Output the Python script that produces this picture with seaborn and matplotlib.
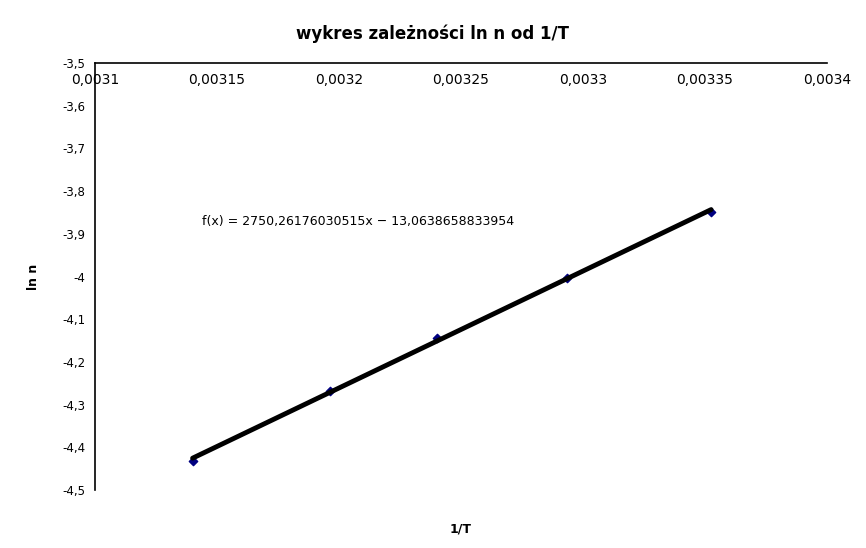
import numpy as np
import pandas as pd
import seaborn as sns
import matplotlib.pyplot as plt

# values
inv_T = [0.003140, 0.0031963, 0.0032402, 0.0032934, 0.0033525]
ln_n = [-4.432, -4.268, -4.144, -4.003, -3.849]
x_ticks = [0.0031, 0.00315, 0.0032, 0.00325, 0.0033, 0.00335, 0.0034]
y_ticks = [-3.5, -3.6, -3.7, -3.8, -3.9, -4.0, -4.1, -4.2, -4.3, -4.4, -4.5]
equation = "f(x) = 2750,26176030515x \u2212 13,0638658833954"

df = pd.DataFrame({'1/T': inv_T, 'ln n': ln_n})

sns.set_style('white')
plt.rcParams['font.family'] = ['DejaVu Sans']
plt.rcParams['text.color'] = 'black'
plt.rcParams['axes.labelcolor'] = 'black'
plt.rcParams['xtick.color'] = 'black'
plt.rcParams['ytick.color'] = 'black'

fig = plt.figure(figsize=(8.66, 5.48), dpi=100)
ax = fig.add_axes([0.1097, 0.1058, 0.955 - 0.1097, 0.885 - 0.1058])

sns.regplot(x='1/T', y='ln n', data=df, ci=None, ax=ax, truncate=True,
            marker='D', scatter_kws={'color': '#000080', 's': 18, 'alpha': 1, 'zorder': 2},
            line_kws={'color': 'black', 'lw': 3.5, 'zorder': 3})

ax.set_xlim(0.0031, 0.0034)
ax.set_ylim(-4.5, -3.5)
ax.set_xticks(x_ticks)
ax.set_yticks(y_ticks)
ax.set_xticklabels([('%.5f' % v).rstrip('0').replace('.', ',') for v in x_ticks], fontsize=8.5)
ax.set_yticklabels([('%g' % v).replace('.', ',') for v in y_ticks], fontsize=8.5)

# x axis drawn along the top edge, labels below it
ax.spines['bottom'].set_position(('data', -3.5))
ax.spines['right'].set_visible(False)
ax.spines['top'].set_visible(False)
for s in ['left', 'bottom']:
    ax.spines[s].set_linewidth(1.2)
    ax.spines[s].set_color('black')
ax.tick_params(axis='both', direction='out', length=5, width=1, pad=2)

ax.set_xlabel('1/T', fontsize=9, fontweight='bold')
ax.xaxis.set_label_coords(0.5, -0.075)
ax.set_ylabel('ln n', fontsize=9, fontweight='bold')
ax.yaxis.set_label_coords(-0.075, 0.5)

ax.text(0.003144, -3.87, equation, fontsize=9, va='center', ha='left')

fig.suptitle('wykres zależności ln n od 1/T', fontsize=12, fontweight='bold', y=0.955)

plt.savefig('out.png', dpi=100)
